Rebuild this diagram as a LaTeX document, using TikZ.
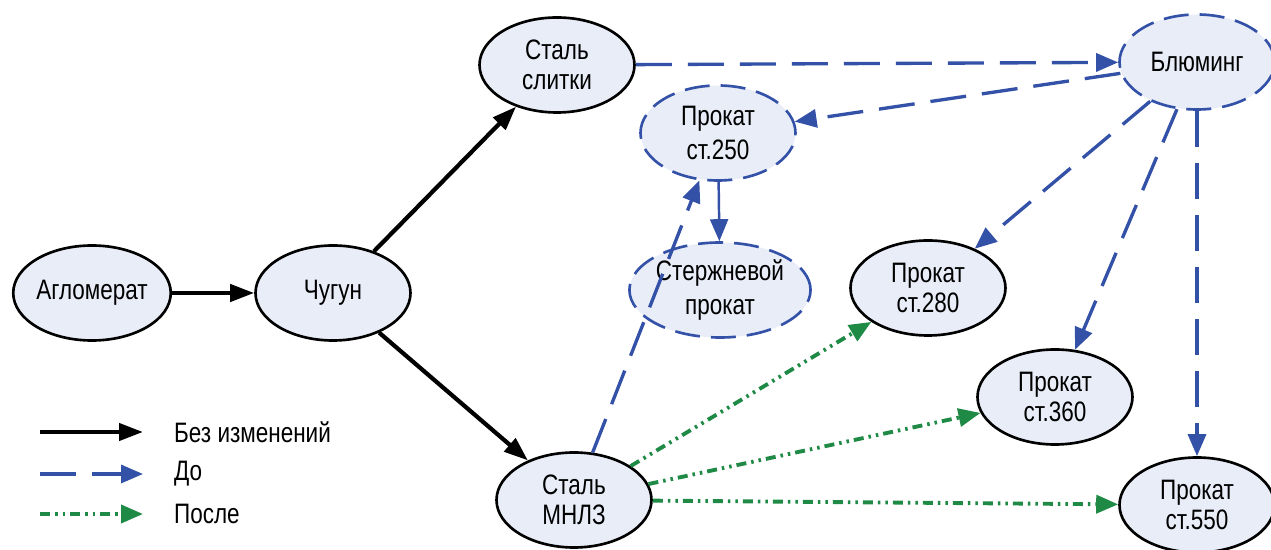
\documentclass[tikz,border=0pt]{standalone}
\usepackage{fontspec}
\setmainfont{Liberation Sans}[FakeStretch=0.8]
\usepackage{tikz}
\usetikzlibrary{arrows.meta,shapes.geometric}

\definecolor{nodefill}{HTML}{E8EDF8}
\definecolor{doblue}{HTML}{3451A8}
\definecolor{posgreen}{HTML}{1E8A45}

\begin{document}
\begin{tikzpicture}[
	main/.style = {draw, ellipse, line width=1.5pt, fill=nodefill, minimum width=3.1cm, minimum height=1.9cm, inner sep=0pt, align=center, font=\fontsize{16}{17}\selectfont},
	old/.style = {main, draw=doblue, dash pattern=on 0.5cm off 0.22cm},
	samearr/.style = {line width=2.4pt, -{Triangle[length=0.48cm,width=0.34cm]}},
	oldarr/.style = {draw=doblue, line width=1.9pt, dash pattern=on 0.72cm off 0.32cm, -{Triangle[length=0.44cm,width=0.36cm,fill=doblue]}},
	newarr/.style = {draw=posgreen, line width=2.2pt, dash pattern=on 0.2cm off 0.1cm on 0.05cm off 0.1cm on 0.05cm off 0.1cm, -{Triangle[length=0.44cm,width=0.36cm,fill=posgreen]}},
	legtext/.style = {anchor=west, font=\fontsize{16}{17}\selectfont}]
	\useasboundingbox (0,0) rectangle (25.42,11);
	\node[main] (agl) at (1.84,5.14) {Агломерат};
	\node[main] (chugun) at (6.66,5.14) {Чугун};
	\node[main] (slitki) at (11.14,9.7) {Сталь\\слитки};
	\node[main] (mnlz) at (11.48,1.0) {Сталь\\МНЛЗ};
	\node[old] (p250) at (14.36,8.34) {Прокат\\[2pt]ст.250};
	\node[old] (sterzh) at (14.4,5.2) {Стержневой\\[2pt]прокат};
	\node[main] (p280) at (18.56,5.24) {Прокат\\ст.280};
	\node[old] (blum) at (23.94,9.76) {Блюминг};
	\node[main] (p360) at (21.1,3.06) {Прокат\\ст.360};
	\node[main] (p550) at (23.94,0.9) {Прокат\\ст.550};
	\draw[samearr] (agl) -- (chugun);
	\draw[samearr] (chugun) -- (slitki);
	\draw[samearr] (chugun) -- (mnlz);
	\draw[oldarr] (slitki) -- (blum);
	\draw[oldarr] (blum) -- (p250);
	\draw[oldarr] (mnlz) -- (p250);
	\draw[draw=doblue, line width=1.4pt, -{Triangle[length=0.44cm,width=0.36cm,fill=doblue]}] (p250) -- (sterzh);
	\draw[oldarr] (blum) -- (p280);
	\draw[oldarr] (blum) -- (p360);
	\draw[oldarr] (blum) -- (p550);
	\draw[newarr] (mnlz) -- (p280);
	\draw[newarr] (mnlz) -- (p360);
	\draw[newarr] (mnlz) -- (p550);
	% legend
	\coordinate (s1) at (0.8,2.36);
	\coordinate (e1) at (2.86,2.36);
	\coordinate (s2) at (0.8,1.52);
	\coordinate (e2) at (2.86,1.52);
	\coordinate (s3) at (0.8,0.72);
	\coordinate (e3) at (2.86,0.72);
	\draw[samearr] (s1) -- (e1);
	\draw[oldarr] (s2) -- (e2);
	\draw[newarr] (s3) -- (e3);
	\node[legtext] (t1) at (3.36,2.36) {Без изменений};
	\node[legtext] (t2) at (3.36,1.52) {До};
	\node[legtext] (t3) at (3.36,0.72) {После};
\end{tikzpicture}
\end{document}
